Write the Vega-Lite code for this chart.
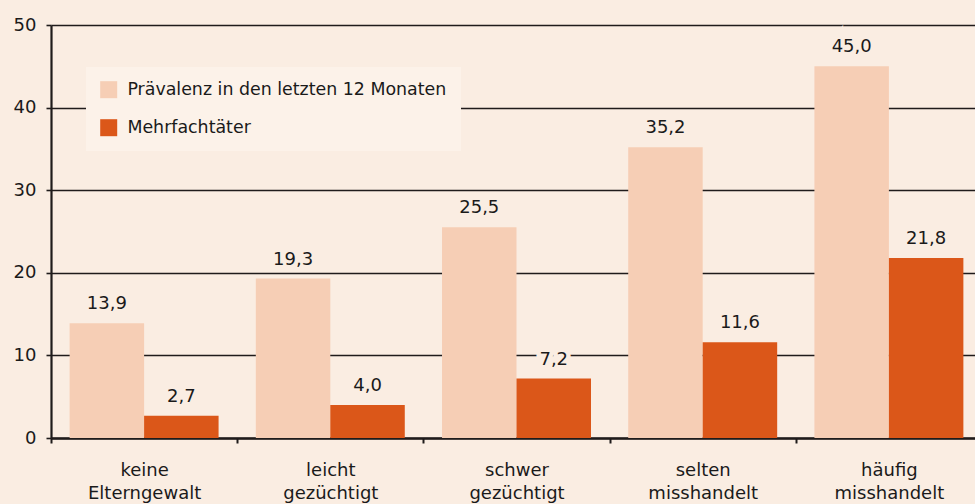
{
  "$schema": "https://vega.github.io/schema/vega-lite/v6.json",
  "width": 924,
  "height": 413,
  "autosize": {"type": "none"},
  "padding": {"left": 51, "top": 25, "right": 0, "bottom": 66},
  "background": "#faede2",
  "config": {
    "view": {"stroke": null},
    "font": "DejaVu Sans",
    "locale": {"number": {"decimal": ",", "thousands": ".", "grouping": [3], "currency": ["", " €"]}}
  },
  "data": {
    "values": [
      {"gruppe": "keine Elterngewalt", "serie": "Prävalenz in den letzten 12 Monaten", "wert": 13.9},
      {"gruppe": "keine Elterngewalt", "serie": "Mehrfachtäter", "wert": 2.7},
      {"gruppe": "leicht gezüchtigt", "serie": "Prävalenz in den letzten 12 Monaten", "wert": 19.3},
      {"gruppe": "leicht gezüchtigt", "serie": "Mehrfachtäter", "wert": 4.0},
      {"gruppe": "schwer gezüchtigt", "serie": "Prävalenz in den letzten 12 Monaten", "wert": 25.5},
      {"gruppe": "schwer gezüchtigt", "serie": "Mehrfachtäter", "wert": 7.2},
      {"gruppe": "selten misshandelt", "serie": "Prävalenz in den letzten 12 Monaten", "wert": 35.2},
      {"gruppe": "selten misshandelt", "serie": "Mehrfachtäter", "wert": 11.6},
      {"gruppe": "häufig misshandelt", "serie": "Prävalenz in den letzten 12 Monaten", "wert": 45.0},
      {"gruppe": "häufig misshandelt", "serie": "Mehrfachtäter", "wert": 21.8}
    ]
  },
  "encoding": {
    "x": {
      "field": "gruppe", "type": "nominal", "sort": null,
      "scale": {"range": [0, 931], "paddingInner": 0.2, "paddingOuter": 0.1},
      "axis": {
        "title": null, "labelAngle": 0, "grid": false,
        "domainColor": "#1f1b1b", "domainWidth": 2.6,
        "tickColor": "#1f1b1b", "tickWidth": 2, "tickSize": 5, "tickOffset": -93.1,
        "labelOffset": 93.1,
        "labelExpr": "split(datum.value, ' ')",
        "labelFont": "DejaVu Sans", "labelFontSize": 18, "labelLineHeight": 23,
        "labelColor": "#1a1a1a", "labelPadding": 18
      }
    },
    "xOffset": {"field": "serie", "type": "nominal", "sort": null, "scale": {"paddingInner": 0, "paddingOuter": 0}},
    "y": {
      "field": "wert", "type": "quantitative",
      "scale": {"domain": [0, 50], "nice": false},
      "axis": {
        "title": null, "values": [0, 10, 20, 30, 40, 50], "grid": true,
        "gridColor": "#1f1b1b", "gridWidth": 1.6, "gridOpacity": 1,
        "domainColor": "#1f1b1b", "domainWidth": 2.2,
        "tickColor": "#1f1b1b", "tickWidth": 1.6, "tickSize": 5,
        "labelFont": "DejaVu Sans", "labelFontSize": 18, "labelColor": "#1a1a1a", "labelPadding": 10
      }
    }
  },
  "layer": [
    {
      "mark": {"type": "bar"},
      "encoding": {
        "color": {
          "field": "serie", "type": "nominal", "sort": null,
          "scale": {"domain": ["Prävalenz in den letzten 12 Monaten", "Mehrfachtäter"], "range": ["#f6ceb5", "#db5719"]},
          "legend": {
            "title": null, "orient": "none", "legendX": 35, "legendY": 42,
            "fillColor": "#fcf2e9", "padding": 14,
            "symbolType": "square", "symbolSize": 289, "symbolStrokeWidth": 0, "symbolOpacity": 1,
            "labelFont": "DejaVu Sans", "labelFontSize": 17.4, "labelColor": "#1a1a1a", "labelOffset": 10,
            "rowPadding": 19, "labelLimit": 500
          }
        }
      }
    },
    {
      "mark": {"type": "text", "align": "center", "baseline": "alphabetic", "dy": -14, "fontSize": 18, "font": "DejaVu Sans", "fill": "#faede2", "stroke": "#faede2", "strokeWidth": 9},
      "encoding": {"text": {"field": "wert", "type": "quantitative", "format": ".1f"}}
    },
    {
      "mark": {"type": "text", "align": "center", "baseline": "alphabetic", "dy": -14, "fontSize": 18, "font": "DejaVu Sans", "color": "#1a1a1a"},
      "encoding": {"text": {"field": "wert", "type": "quantitative", "format": ".1f"}}
    }
  ]
}
